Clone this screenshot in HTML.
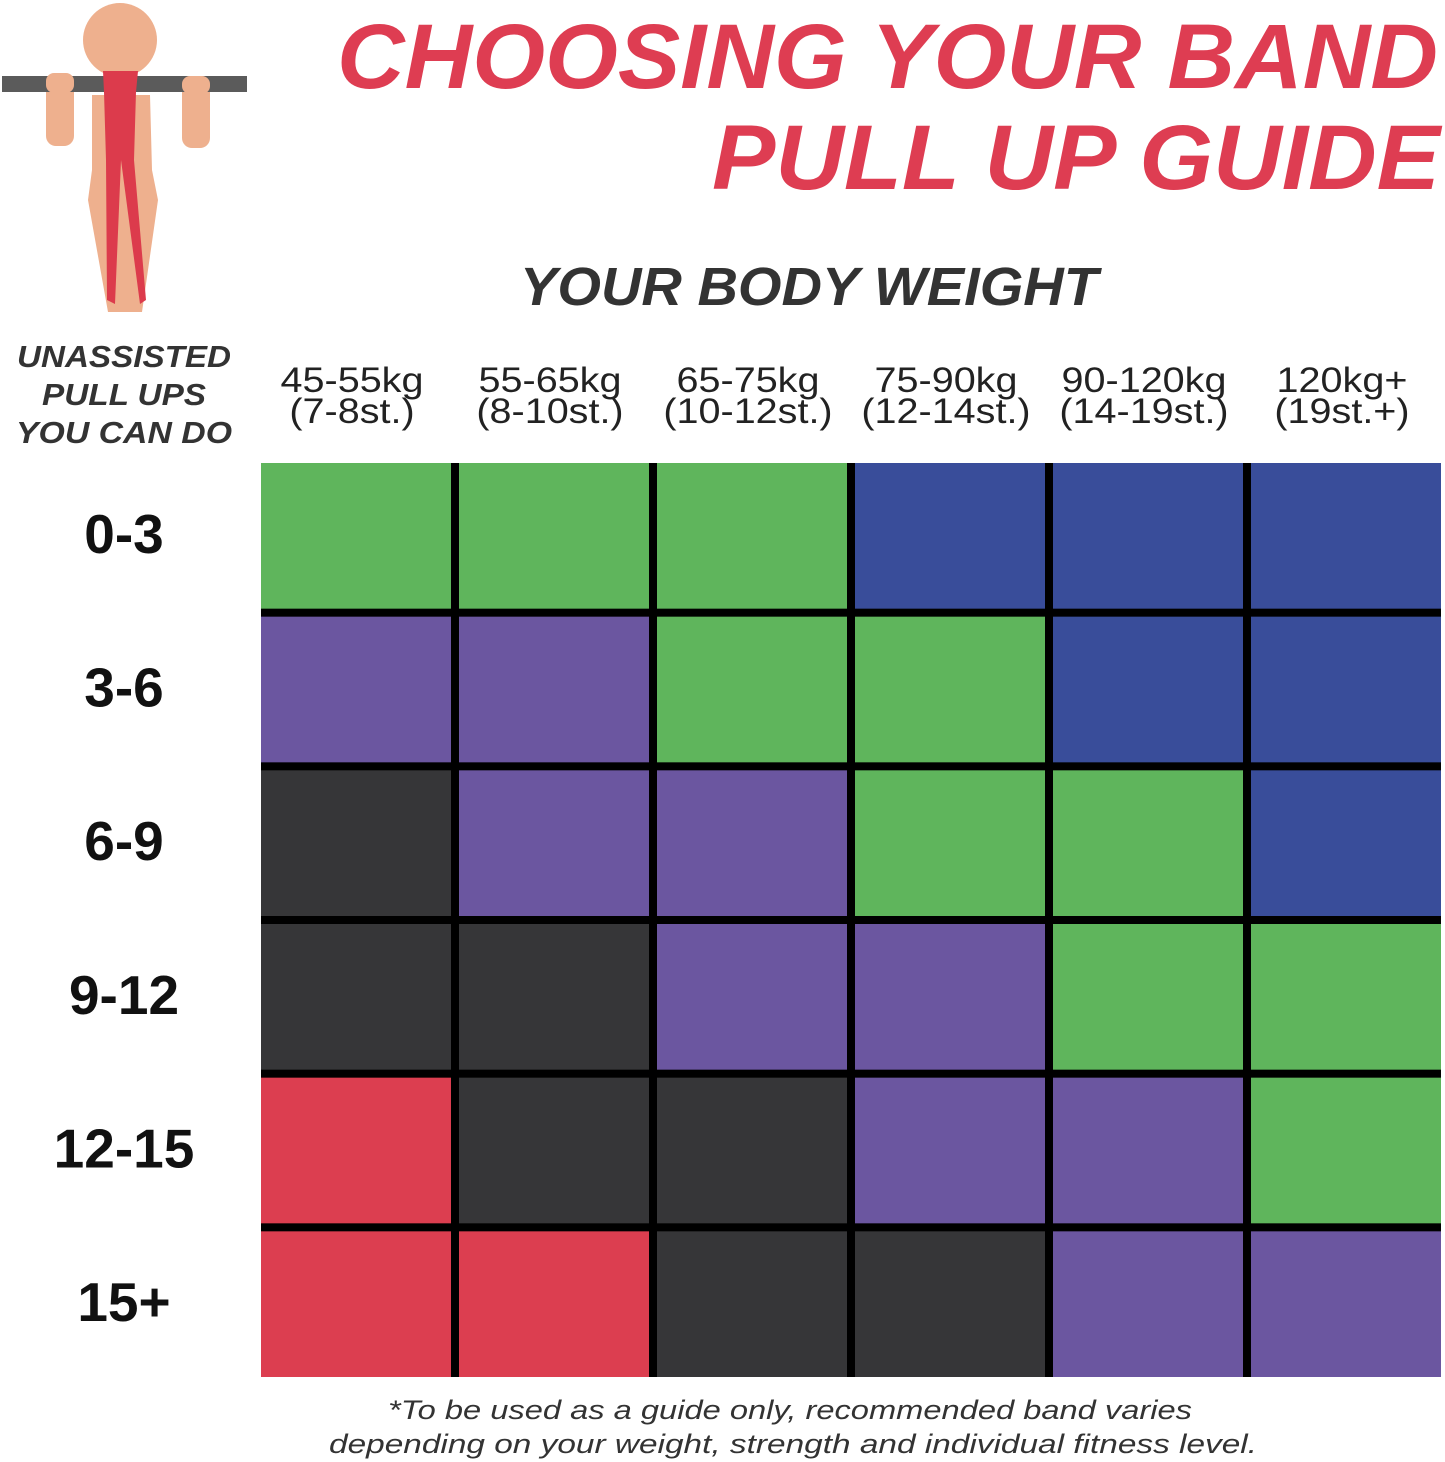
<!DOCTYPE html>
<html><head><meta charset="utf-8"><style>
html,body{margin:0;padding:0;background:#fff}
svg{display:block}
text{font-family:"Liberation Sans",sans-serif}
</style></head><body>
<svg id="chart" width="1445" height="1462" viewBox="0 0 1445 1462" xmlns="http://www.w3.org/2000/svg">
<g>
  <circle cx="120" cy="40" r="37" fill="#eeb08e"/>
  <path d="M92 95 L150 95 L152 170 L158 200 L142 312 L108 312 L88 200 L92 170 Z" fill="#eeb08e"/>
  <rect x="46" y="74" width="28" height="72" rx="10" fill="#eeb08e"/>
  <rect x="182" y="76" width="28" height="72" rx="10" fill="#eeb08e"/>
  <rect x="2" y="76" width="245" height="16" fill="#5b5b5b"/>
  <rect x="46" y="73" width="28" height="20" rx="8" fill="#eeb08e"/>
  <rect x="182" y="76" width="28" height="18" rx="8" fill="#eeb08e"/>
  <path d="M103 71 L138 71 L136 92 L134 160 L146 300 L140 304 L121 160 L115 304 L107 300 L106 160 L104 92 Z" fill="#dc3b4c"/>
</g>
<text x="337" y="88" font-size="92" font-weight="bold" font-style="italic" fill="#de3d52" textLength="1101" lengthAdjust="spacingAndGlyphs">CHOOSING YOUR BAND</text>
<text x="712" y="189" font-size="92" font-weight="bold" font-style="italic" fill="#de3d52" textLength="728" lengthAdjust="spacingAndGlyphs">PULL UP GUIDE</text>
<text x="520" y="305" font-size="54" font-weight="bold" font-style="italic" fill="#333" textLength="578" lengthAdjust="spacingAndGlyphs">YOUR BODY WEIGHT</text>
<g font-size="31" font-weight="bold" font-style="italic" fill="#333" text-anchor="middle">
  <text x="124" y="367" textLength="214" lengthAdjust="spacingAndGlyphs">UNASSISTED</text>
  <text x="124" y="405" textLength="164" lengthAdjust="spacingAndGlyphs">PULL UPS</text>
  <text x="124" y="443" textLength="216" lengthAdjust="spacingAndGlyphs">YOU CAN DO</text>
</g>
<g id="grid"></g>
<g id="labels"></g>
<g font-size="27" font-style="italic" fill="#333">
  <text x="388" y="1419" textLength="804" lengthAdjust="spacingAndGlyphs">*To be used as a guide only, recommended band varies</text>
  <text x="329" y="1453" textLength="928" lengthAdjust="spacingAndGlyphs">depending on your weight, strength and individual fitness level.</text>
</g>
</svg>
<script>
const weightCategories = ["45-55kg","55-65kg","65-75kg","75-90kg","90-120kg","120kg+"];
const stoneLabels = ["(7-8st.)","(8-10st.)","(10-12st.)","(12-14st.)","(14-19st.)","(19st.+)"];
const pullUpCategories = ["0-3","3-6","6-9","9-12","12-15","15+"];
const bandGrid = [
  ["green","green","green","blue","blue","blue"],
  ["purple","purple","green","green","blue","blue"],
  ["black","purple","purple","green","green","blue"],
  ["black","black","purple","purple","green","green"],
  ["red","black","black","purple","purple","green"],
  ["red","red","black","black","purple","purple"]
];
const bandColors = {green:"#5fb55c",blue:"#394d9a",purple:"#6b56a0",black:"#363638",red:"#dc3e50"};
const NS="http://www.w3.org/2000/svg";
const gx0=261, gx1=1441, gy0=463, gy1=1377, gap=8;
const pitchX=(gx1-gx0+gap)/weightCategories.length;
const pitchY=(gy1-gy0+gap)/pullUpCategories.length;
const xPos=i=>gx0+i*pitchX, yPos=j=>gy0+j*pitchY;
const grid=document.getElementById('grid');
const bg=document.createElementNS(NS,'rect');
bg.setAttribute('x',gx0);bg.setAttribute('y',gy0);bg.setAttribute('width',gx1-gx0);bg.setAttribute('height',gy1-gy0);bg.setAttribute('fill','#000');


grid.appendChild(bg);
bandGrid.forEach((row,j)=>row.forEach((c,i)=>{
  const r=document.createElementNS(NS,'rect');
  r.setAttribute('x',xPos(i));r.setAttribute('y',yPos(j));
  r.setAttribute('width',pitchX-gap);r.setAttribute('height',pitchY-gap);
  r.setAttribute('fill',bandColors[c]);
  
  
  grid.appendChild(r);
}));
const labels=document.getElementById('labels');
weightCategories.forEach((w,i)=>{
  const cx=xPos(i)+(pitchX-gap)/2-4;
  [[w,392],[stoneLabels[i],423]].forEach(([s,y],k)=>{
    const t=document.createElementNS(NS,'text');
    t.setAttribute('x',cx);t.setAttribute('y',y);t.setAttribute('font-size','35');
    t.setAttribute('text-anchor','middle');t.setAttribute('fill','#222');
    t.textContent=s;
    
    
    labels.appendChild(t);
    const L=t.getComputedTextLength();
    t.setAttribute('textLength',L*1.13);
    t.setAttribute('lengthAdjust','spacingAndGlyphs');
  });
});
pullUpCategories.forEach((p,j)=>{
  const t=document.createElementNS(NS,'text');
  t.setAttribute('x',124);t.setAttribute('y',yPos(j)+(pitchY-gap)/2+17);
  t.setAttribute('font-size','55');t.setAttribute('font-weight','bold');
  t.setAttribute('text-anchor','middle');t.setAttribute('fill','#111');
  t.textContent=p;
  
  
  labels.appendChild(t);
});
</script>
</body></html>
